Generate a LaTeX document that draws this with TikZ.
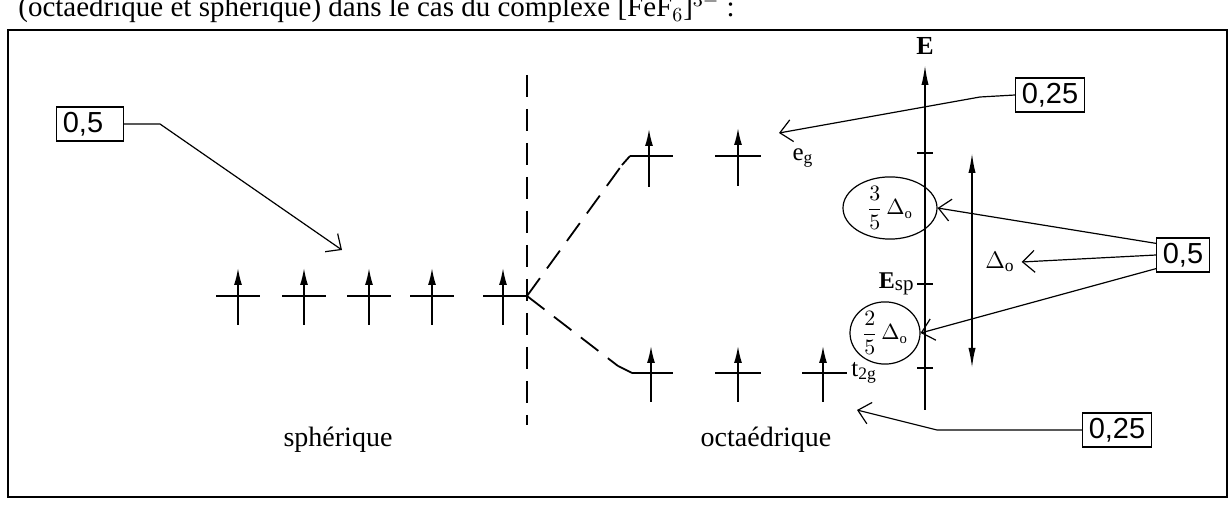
\documentclass[tikz,border=0pt]{standalone}
\usepackage{amsmath}
\usepackage{fontspec}
\setmainfont{Liberation Serif}
\setsansfont{Liberation Sans}
\usetikzlibrary{positioning, calc, arrows.meta, shapes.geometric}

\begin{document}
\begin{tikzpicture}[
    x=0.5pt, y=-0.5pt,
    level/.style={line width=1.4pt},
    spin/.style={-{Latex[length=8.5pt, width=4pt]}, line width=0.8pt},
    split/.style={line width=0.9pt, dash pattern=on 11pt off 6pt},
    val/.style={draw, line width=0.6pt, inner xsep=3pt, inner ysep=2.5pt,
                font=\sffamily\fontsize{14.5}{15}\selectfont},
    ptr/.style={-{Straight Barb[length=6pt, width=11pt]}, line width=0.6pt},
    frac/.style={draw, ellipse, line width=0.6pt, inner sep=0pt,
                 font=\fontsize{10.5}{10.5}\selectfont},
    txt/.style={font=\fontsize{14}{16}\selectfont},
    axis/.style={-{Latex[length=10pt, width=3.6pt]}, line width=0.8pt},
    dbl/.style={{Latex[length=10pt, width=3.6pt]}-{Latex[length=10pt, width=3.6pt]},
                line width=0.8pt},
]
\useasboundingbox (0,0) rectangle (1232,512);

% --- Frame and caption ---
\draw[line width=0.9pt] (8,30) rectangle (1227,497);
\node[font=\fontsize{14.5}{16}\selectfont, anchor=base west, inner sep=0pt] (caption) at (18,17)
    {(octaédrique et sphérique) dans le cas du complexe [FeF$_6$]$^{3-}$ :};

% --- Spherical field ---
\coordinate (sph) at (527,296);
\foreach \x in {238, 304, 369, 432} {
    \draw[level] (\x-22,296) -- (\x+22,296);
    \draw[spin] (\x,325) -- (\x,268);
}
\draw[level] (483,296) -- (sph);
\draw[spin] (503,325) -- (503,268);
\draw[split] (527,75) -- (527,425);

% --- Octahedral field ---
\coordinate (egL) at (630,156);
\coordinate (t2L) at (632,373);
\draw[split] (sph) -- (622,165);
\draw[line width=0.9pt] (622,165) -- (egL);
\draw[split] (sph) -- (618,366);
\draw[line width=0.9pt] (618,366) -- (t2L);
\draw[level] (egL) -- (673,156);
\draw[level] (715,156) -- (761,156);
\draw[spin] (649,187) -- (649,129);
\draw[spin] (738,186) -- (738,128);
\draw[level] (t2L) -- (673,373);
\draw[level] (715,373) -- (761,373);
\draw[level] (802,373) -- (847,373);
\foreach \x in {651, 738, 823} {
    \draw[spin] (\x,402) -- (\x,346);
}
\node[font=\fontsize{12.5}{12}\selectfont] (eg) at (803,158) {e\textsubscript{g}};
\node[font=\fontsize{12.5}{12}\selectfont, anchor=west, inner sep=0pt] (t2g) at (851,373)
    {t\textsubscript{2g}};

% --- Energy axis ---
\draw[axis] (925,410) -- (925,65);
\node[font=\bfseries\fontsize{13}{13}\selectfont] (E) at (925,46) {E};
\foreach \y in {153, 284, 368} {
    \draw[line width=0.8pt] (917,\y) -- (933,\y);
}
\node[font=\fontsize{12}{12}\selectfont, anchor=east, inner sep=1pt] (Esp) at (916,284)
    {\textbf{E}\raisebox{-1.2pt}{\fontsize{10.5}{10}\selectfont sp}};
\node[frac, minimum width=47pt, minimum height=27.5pt] (f35) at (890,208)
    {$\dfrac{3}{5}\,\Delta_{\mathrm{o}}$};
\node[frac, minimum width=35pt, minimum height=25pt] (f25) at (885,333)
    {$\dfrac{2}{5}\,\Delta_{\mathrm{o}}$};
\draw[dbl] (972,153) -- (972,368);
\node[font=\fontsize{12.5}{12}\selectfont] (do) at (1000,262) {$\Delta_{\mathrm{o}}$};

% --- Values ---
\node[val] (v05l) at (90,124) {0,5\hspace*{7pt}};
\node[val] (v25t) at (1050,95) {0,25};
\node[val] (v05r) at (1183,255) {0,5};
\node[val] (v25b) at (1117,430) {0,25};

\coordinate (sphTip) at (342,250);
\coordinate (egTip) at (779,133);
\coordinate (t2Tip) at (857,410);

% --- Pointers ---
\draw[ptr] (v05l.east) -- (160,124) -- (sphTip);
\draw[ptr] (v25t.west) -- (980,97) -- (egTip);
\draw[ptr] ([yshift=-3pt]v05r.north west) -- (f35.east);
\draw[ptr] (v05r.west) -- (do.east);
\draw[ptr] ([yshift=2pt]v05r.south west) -- (f25.east);
\draw[ptr] (v25b.west) -- (937,430) -- (t2Tip);

% --- Labels ---
\node[txt] (sphl) at (338,440) {sphérique};
\node[txt] (octl) at (766,440) {octaédrique};
\end{tikzpicture}
\end{document}
